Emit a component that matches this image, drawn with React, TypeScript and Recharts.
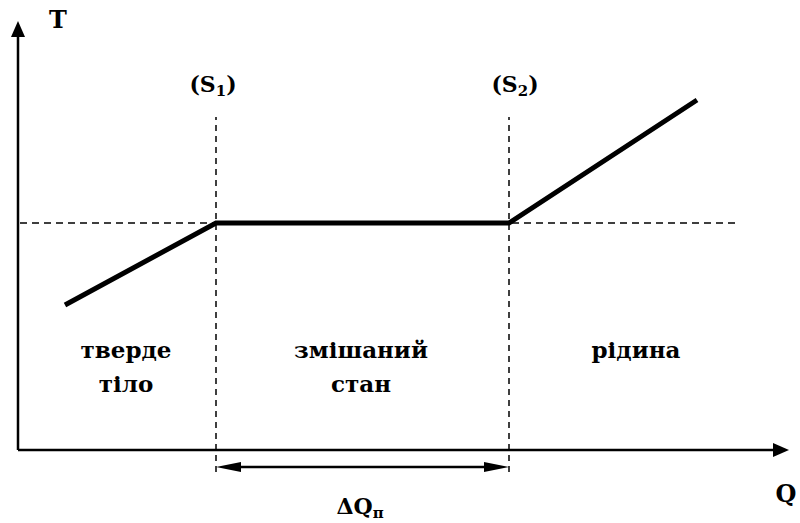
import React from "react";
import { LineChart, Line, XAxis, YAxis, ReferenceLine, ReferenceDot } from "recharts";

// Heat Q (x) and temperature T (y), in chart units with origin at the axes corner
const heatQ = [47, 198, 491, 679];
const tempT = [145, 227, 227, 350];
const s1Q = 198;
const s2Q = 491;
const meltT = 227;

const data = heatQ.map((q, i) => ({ q, t: tempT[i] }));

const regionLines = [
  { q: 108, t: 92, text: "тверде" },
  { q: 108, t: 58, text: "тіло" },
  { q: 343, t: 92, text: "змішаний" },
  { q: 343, t: 58, text: "стан" },
  { q: 618, t: 92, text: "рідина" },
];

const FONT = "DejaVu Serif";

const arrowLine = (start: boolean, end: boolean, width: number, len: number, half: number) => (p: any) => {
  const { x1, y1, x2, y2 } = p;
  const dx = x2 - x1;
  const dy = y2 - y1;
  const L = Math.sqrt(dx * dx + dy * dy) || 1;
  const ux = dx / L;
  const uy = dy / L;
  const nx = -uy;
  const ny = ux;
  const head = (tx: number, ty: number, dir: number) => {
    const bx = tx - dir * ux * len;
    const by = ty - dir * uy * len;
    return `${tx},${ty} ${bx + nx * half},${by + ny * half} ${bx - nx * half},${by - ny * half}`;
  };
  const sx = start ? x1 + ux * len * 0.8 : x1;
  const sy = start ? y1 + uy * len * 0.8 : y1;
  const ex = end ? x2 - ux * len * 0.8 : x2;
  const ey = end ? y2 - uy * len * 0.8 : y2;
  return (
    <g>
      <line x1={sx} y1={sy} x2={ex} y2={ey} stroke="#000" strokeWidth={width} />
      {start && <polygon points={head(x1, y1, -1)} fill="#000" />}
      {end && <polygon points={head(x2, y2, 1)} fill="#000" />}
    </g>
  );
};

const textShape = (text: string, size: number) => (p: any) => (
  <text x={p.cx} y={p.cy} textAnchor="middle" fontFamily={FONT} fontWeight="bold" fontSize={size} fill="#000">
    {text}
  </text>
);

const subShape = (main: string, sub: string, tail: string, size: number) => (p: any) => (
  <text x={p.cx} y={p.cy} textAnchor="middle" fontFamily={FONT} fontWeight="bold" fontSize={size} fill="#000">
    {main}
    <tspan fontSize={size * 0.68} dy={4}>{sub}</tspan>
    <tspan dy={-4}>{tail}</tspan>
  </text>
);

export default function App() {
  return (
    <div style={{ position: "absolute", left: 0, top: 0, background: "#fff" }}>
      <LineChart width={800} height={523} data={data} margin={{ top: 0, right: 0, bottom: 0, left: 0 }}>
        <XAxis type="number" dataKey="q" domain={[-18, 782]} hide />
        <YAxis type="number" domain={[-73, 450]} hide />
        {/* axes */}
        <ReferenceLine segment={[{ x: 0, y: 0 }, { x: 0, y: 429 }]} shape={arrowLine(false, true, 2.5, 16, 7)} />
        <ReferenceLine segment={[{ x: 0, y: 0 }, { x: 771, y: 0 }]} shape={arrowLine(false, true, 2.5, 16, 7)} />
        {/* dashed guides */}
        <ReferenceLine segment={[{ x: 2, y: meltT }, { x: 717, y: meltT }]} stroke="#000" strokeWidth={1.3} strokeDasharray="7 5" />
        <ReferenceLine segment={[{ x: s1Q, y: -22 }, { x: s1Q, y: 333 }]} stroke="#000" strokeWidth={1.5} strokeDasharray="6 5" />
        <ReferenceLine segment={[{ x: s2Q, y: -22 }, { x: s2Q, y: 333 }]} stroke="#000" strokeWidth={1.5} strokeDasharray="6 5" />
        {/* latent heat arrow */}
        <ReferenceLine segment={[{ x: s1Q, y: -17 }, { x: s2Q, y: -17 }]} shape={arrowLine(true, true, 2.5, 25, 5)} />
        <Line type="linear" dataKey="t" stroke="#000" strokeWidth={5} dot={false} activeDot={false} isAnimationActive={false} strokeLinejoin="miter" strokeDasharray="2000 0" />
        {/* labels */}
        <ReferenceDot x={40} y={422} r={0} shape={textShape("T", 24)} />
        <ReferenceDot x={768} y={-52} r={0} shape={textShape("Q", 24)} />
        <ReferenceDot x={s1Q - 3} y={358} r={0} shape={subShape("(S", "1", ")", 22)} />
        <ReferenceDot x={s2Q + 6} y={358} r={0} shape={subShape("(S", "2", ")", 22)} />
        <ReferenceDot x={342} y={-64} r={0} shape={subShape("ΔQ", "п", "", 22)} />
        {regionLines.map((r, i) => (
          <ReferenceDot key={i} x={r.q} y={r.t} r={0} shape={textShape(r.text, 23)} />
        ))}
      </LineChart>
    </div>
  );
}
